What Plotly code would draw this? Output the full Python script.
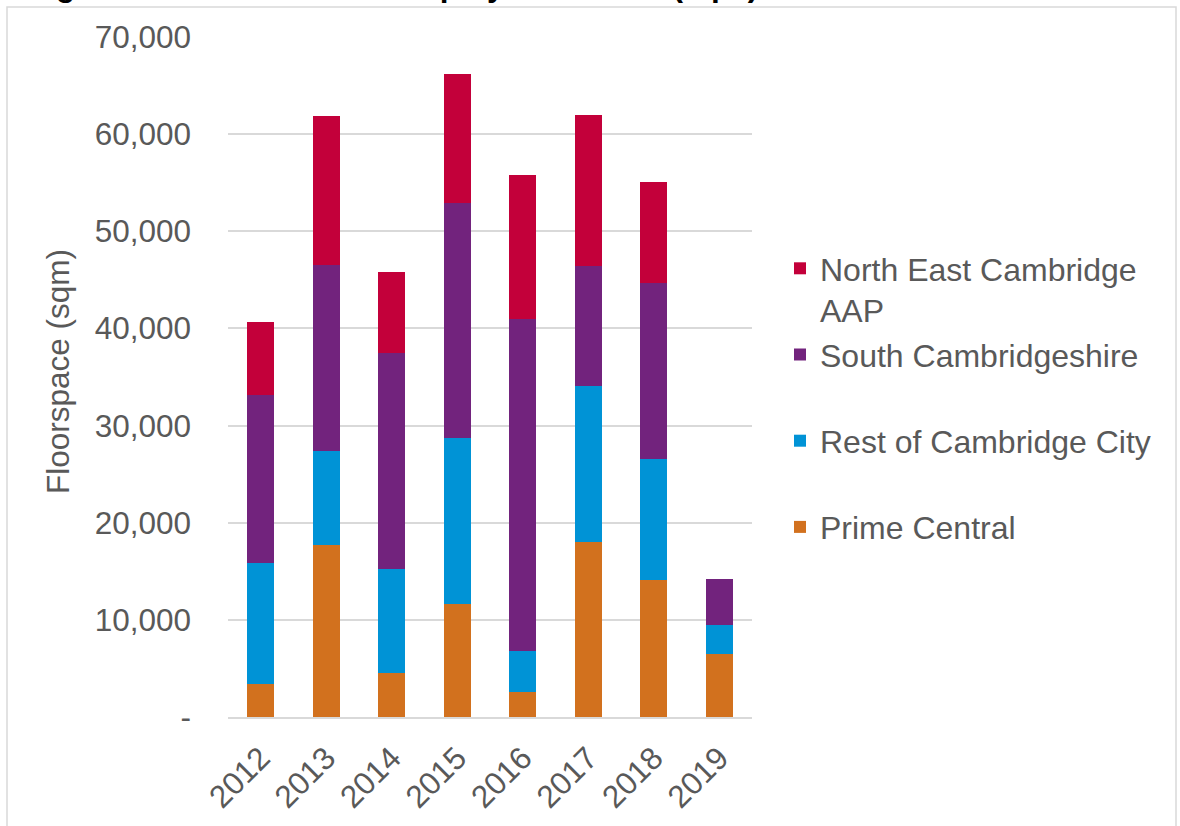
import plotly.graph_objects as go

years = ["2012", "2013", "2014", "2015", "2016", "2017", "2018", "2019"]
prime_central = [3430, 17710, 4530, 11640, 2610, 17990, 14070, 6490]
rest_of_city = [12460, 9720, 10710, 17090, 4190, 16100, 12470, 2980]
south_cambs = [17300, 19120, 22220, 24170, 34220, 12290, 18120, 4740]
ne_cambridge_aap = [7520, 15340, 8340, 13290, 14770, 15550, 10410, 0]

series_names = ["Prime Central", "Rest of Cambridge City", "South Cambridgeshire",
                "North East Cambridge AAP"]
legend_labels = ["Prime Central<br>&nbsp;", "Rest of Cambridge City<br>&nbsp;",
                 "South Cambridgeshire<br>&nbsp;", "North East Cambridge<br>AAP"]
series_values = [prime_central, rest_of_city, south_cambs, ne_cambridge_aap]
colors = ["#D2711E", "#0093D6", "#72237D", "#C3003A"]

y_tickvals = [0, 10000, 20000, 30000, 40000, 50000, 60000, 70000]
y_ticktext = ["-", "10,000", "20,000", "30,000", "40,000", "50,000", "60,000", "70,000"]

FONT = "Arial, Liberation Sans, sans-serif"
FS = 31.5
GREY = "#595959"

W, H = 1180, 826
L, T = 228, 37
R = W - 752
B = H - 717
pw, ph = W - L - R, H - T - B


def px_x(x):
    """screen x -> paper x"""
    return (x - L) / pw


def px_y(y):
    """screen y -> paper y"""
    return (H - B - y) / ph


fig = go.Figure()
for name, lab, vals, col in zip(series_names, legend_labels, series_values, colors):
    fig.add_trace(go.Bar(
        x=years, y=vals, name=lab, marker=dict(color=col, line=dict(width=0)),
        hovertext=name,
    ))

fig.update_layout(
    width=W, height=H,
    margin=dict(l=L, r=R, t=T, b=B, pad=0, autoexpand=False),
    barmode="stack", bargap=0.588,
    plot_bgcolor="white", paper_bgcolor="white",
    font=dict(family=FONT, size=FS, color=GREY),
    showlegend=True,
    legend=dict(
        traceorder="reversed", valign="top",
        x=px_x(780), xanchor="left", y=px_y(241), yanchor="top",
        font=dict(family=FONT, size=32, color=GREY),
        bgcolor="rgba(0,0,0,0)",
    ),
    xaxis=dict(
        type="category", tickangle=-45, showgrid=False, automargin=False,
        showline=True, linecolor="#D9D9D9", linewidth=2,
        ticks="", ticklabelstandoff=8, tickfont=dict(size=FS, color=GREY),
    ),
    yaxis=dict(
        range=[0, 70000], tickvals=y_tickvals, ticktext=y_ticktext,
        showgrid=True, gridcolor="#D9D9D9", gridwidth=2, automargin=False,
        zeroline=False, showline=False, ticks="",
        ticklabelstandoff=36, tickfont=dict(size=FS, color=GREY),
    ),
    annotations=[
        dict(text="Floorspace (sqm)", xref="paper", yref="paper",
             x=px_x(58), y=px_y(372), xanchor="center", yanchor="middle",
             textangle=-90, showarrow=False,
             font=dict(family=FONT, size=FS, color=GREY)),
        dict(text="<b>Figure 4: Net Additional Employment Land (sqm)</b>",
             xref="paper", yref="paper", x=px_x(26), y=px_y(5),
             xanchor="left", yanchor="bottom", showarrow=False,
             font=dict(family=FONT, size=FS, color="black")),
    ],
    shapes=[
        dict(type="rect", xref="paper", yref="paper",
             x0=px_x(7), x1=px_x(1176), y0=px_y(840), y1=px_y(7),
             line=dict(color="#D9D9D9", width=1.5), fillcolor="rgba(0,0,0,0)",
             layer="below"),
    ],
)

fig.write_html(
    "out.html",
    config={"displayModeBar": False},
    post_script="document.body.style.margin='0';document.body.style.overflow='hidden';",
)
